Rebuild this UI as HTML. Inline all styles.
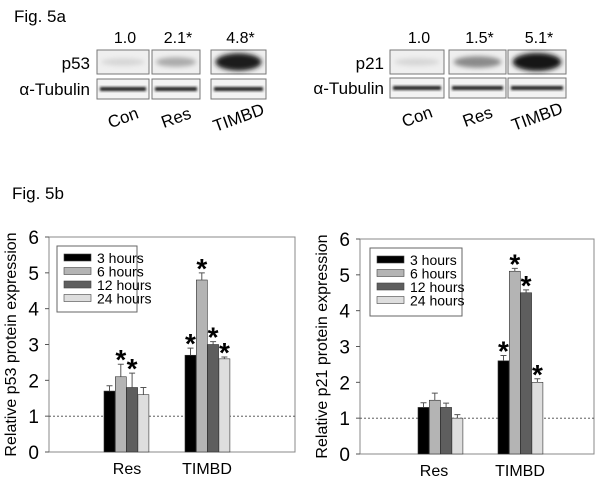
<!DOCTYPE html>
<html><head><meta charset="utf-8">
<style>
html,body{margin:0;padding:0;background:#fff;}
svg text{font-family:"Liberation Sans",Arial,sans-serif;}
</style></head>
<body>
<svg id="fig" width="602" height="484" viewBox="0 0 602 484" xmlns="http://www.w3.org/2000/svg">
<defs>
<filter id="blur1" x="-20%" y="-50%" width="140%" height="200%"><feGaussianBlur stdDeviation="2.5"/></filter>
<filter id="blur2" x="-20%" y="-50%" width="140%" height="200%"><feGaussianBlur stdDeviation="1.2"/></filter>
</defs>
<text x="14" y="22" font-size="17">Fig. 5a</text>
<text x="12" y="199" font-size="17">Fig. 5b</text>
<g id="blots"></g>
<g id="chart1"></g>
<g id="chart2"></g>
</svg>
<script>
// ---- Chart data ----
const categories = ["Res", "TIMBD"];
const seriesNames = ["3 hours", "6 hours", "12 hours", "24 hours"];
const seriesColors = ["#000000", "#b4b4b4", "#5e5e5e", "#dedede"];
const yTicks = [0, 1, 2, 3, 4, 5, 6];
// p53 chart
const p53Values = [[1.7, 2.7], [2.1, 4.8], [1.8, 3.0], [1.6, 2.6]];
const p53Errors = [[0.15, 0.2], [0.35, 0.2], [0.4, 0.08], [0.2, 0.05]];
const p53Stars = [[false, true], [true, true], [true, true], [false, true]];
// p21 chart
const p21Values = [[1.3, 2.6], [1.5, 5.1], [1.3, 4.5], [1.0, 2.0]];
const p21Errors = [[0.13, 0.15], [0.2, 0.08], [0.12, 0.08], [0.1, 0.1]];
const p21Stars = [[false, true], [false, true], [false, true], [false, true]];
// blot quantification
const blotLanes = ["Con", "Res", "TIMBD"];
const p53BlotValues = ["1.0", "2.1*", "4.8*"];
const p21BlotValues = ["1.0", "1.5*", "5.1*"];

const NS = "http://www.w3.org/2000/svg";
function mk(parent, tag, attrs, text) {
  const e = document.createElementNS(NS, tag);
  for (const k in attrs) e.setAttribute(k, attrs[k]);
  if (text !== undefined) e.textContent = text;
  parent.appendChild(e);
  return e;
}

function drawChart(gid, cfg, values, errors, stars, ylabel, prefix) {
  const g = document.getElementById(gid);
  const yScale = v => cfg.bottom - (v / 6) * (cfg.bottom - cfg.top);
  const xScale = (ci, si) => cfg.groupStart[ci] + si * cfg.step;
  const fr = mk(g, "rect", {x: cfg.left, y: cfg.top, width: cfg.right - cfg.left, height: cfg.bottom - cfg.top, fill: "none", stroke: "#888", "stroke-width": 1});
  
  
  yTicks.forEach(t => {
    const y = yScale(t);
    const tl = mk(g, "line", {x1: cfg.left - 4, x2: cfg.left, y1: y, y2: y, stroke: "#555"});
    
    
    const tx = mk(g, "text", {x: cfg.left - 10, y: y + 7, "font-size": 19, "text-anchor": "end"}, String(t));
    
    
  });
  const dl = mk(g, "line", {x1: cfg.left, x2: cfg.right, y1: yScale(1), y2: yScale(1), stroke: "#444", "stroke-width": 0.8, "stroke-dasharray": "2,2"});
  
  
  const yt = mk(g, "text", {x: 0, y: 0, "font-size": 16, "text-anchor": "middle", transform: `translate(${cfg.left - 33},${(cfg.top + cfg.bottom) / 2}) rotate(-90)`}, ylabel);
  
  
  categories.forEach((c, ci) => {
    seriesNames.forEach((s, si) => {
      const v = values[si][ci], e = errors[si][ci];
      const x = xScale(ci, si);
      const y = yScale(v);
      const b = mk(g, "rect", {x: x, y: y, width: cfg.barW, height: cfg.bottom - y, fill: seriesColors[si], stroke: "#333", "stroke-width": 0.6});
      
      
      const ye = yScale(v + e);
      const cx = x + cfg.barW / 2;
      const eb = mk(g, "path", {d: `M${cx},${y} V${ye} M${cx - 3},${ye} H${cx + 3}`, stroke: "#555", "stroke-width": 1, fill: "none"});
      
      
      if (stars[si][ci]) {
        const st = mk(g, "text", {x: cx, y: ye + 5, "font-size": 28, "font-weight": "bold", "text-anchor": "middle"}, "*");
        
        
      }
    });
    const cl = mk(g, "text", {x: cfg.catLabelX[ci], y: cfg.bottom + 22, "font-size": 16, "text-anchor": "middle"}, c);
    
    
  });
  const L = cfg.legend;
  const lg = mk(g, "g", {});
  
  
  mk(lg, "rect", {x: L.x, y: L.y, width: L.w, height: L.h, fill: "#fff", stroke: "#666", "stroke-width": 1});
  seriesNames.forEach((s, si) => {
    const yy = L.y + 8 + si * 13.5;
    const sw = mk(lg, "rect", {x: L.x + 7, y: yy, width: 27, height: 7, fill: seriesColors[si], stroke: "#444", "stroke-width": 0.6});
    
    
    const lt = mk(lg, "text", {x: L.x + 40, y: yy + 9, "font-size": 14}, s);
    
    
  });
}

drawChart("chart1", {left: 49, right: 295, top: 237, bottom: 452, barW: 11, step: 11.3, groupStart: [104, 185], catLabelX: [127, 207],
  legend: {x: 57, y: 246, w: 80, h: 66}}, p53Values, p53Errors, p53Stars, "Relative p53 protein expression", "p53-chart");
drawChart("chart2", {left: 360, right: 594, top: 239, bottom: 454, barW: 11, step: 11.3, groupStart: [418, 498], catLabelX: [434, 520],
  legend: {x: 370, y: 248, w: 92, h: 68}}, p21Values, p21Errors, p21Stars, "Relative p21 protein expression", "p21-chart");

function drawBlot(prefix, label, lanesX, topY, vals, intens, tubY, labelRight) {
  const g = document.getElementById("blots");
  const lb = mk(g, "text", {x: labelRight, y: topY + 19, "font-size": 17, "text-anchor": "end"}, label);
  
  
  const tb = mk(g, "text", {x: labelRight, y: tubY + 16, "font-size": 17, "text-anchor": "end"}, "α-Tubulin");
  
  
  lanesX.forEach((lx, i) => {
    const w = lx[1] - lx[0];
    const nv = mk(g, "text", {x: (lx[0] + lx[1]) / 2 + 2, y: topY - 7, "font-size": 16, "text-anchor": "middle"}, vals[i]);
    
    
    const box = mk(g, "rect", {x: lx[0], y: topY, width: w, height: 24, fill: "#efefef", stroke: "#777"});
    
    
    const c = Math.round(235 - intens[i] * 215);
    mk(g, "ellipse", {cx: (lx[0] + lx[1]) / 2, cy: topY + 12, rx: w * 0.42, ry: 3 + intens[i] * 6, fill: `rgb(${c},${c},${c})`, filter: "url(#blur1)"});
    const tbx = mk(g, "rect", {x: lx[0], y: tubY, width: w, height: 20, fill: "#f3f3f3", stroke: "#777"});
    
    
    mk(g, "rect", {x: lx[0] + 3, y: tubY + 8, width: w - 6, height: 4, fill: "#222", filter: "url(#blur2)"});
    const rl = mk(g, "text", {x: 0, y: 0, "font-size": 17, "text-anchor": "middle", transform: `translate(${(lx[0] + lx[1]) / 2 + 2},${tubY + 44}) rotate(-20)`}, blotLanes[i]);
    
    
  });
}
drawBlot("p53", "p53", [[97, 149], [152, 200], [211, 266]], 50, p53BlotValues, [0.1, 0.3, 0.95], 79, 90);
drawBlot("p21", "p21", [[390, 444], [449, 506], [508, 566]], 50, p21BlotValues, [0.1, 0.45, 1.0], 78, 384);
</script>
</body></html>
